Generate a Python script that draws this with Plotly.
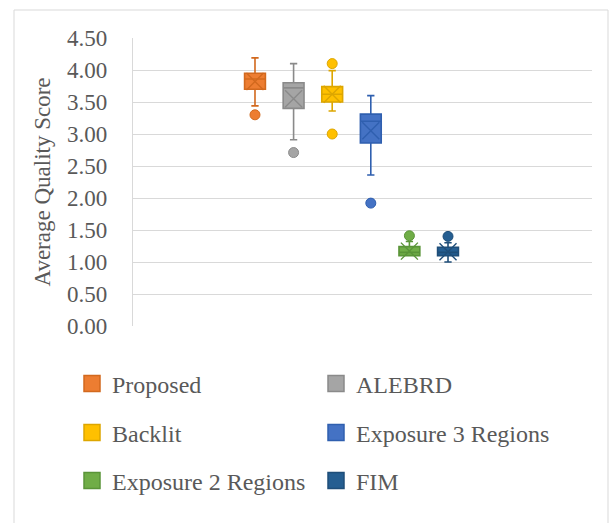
import plotly.graph_objects as go

series = ["Proposed", "ALEBRD", "Backlit", "Exposure 3 Regions", "Exposure 2 Regions", "FIM"]
positions = [0, 1, 2, 3, 4, 5]
lower_fence = [3.44, 2.91, 3.36, 2.36, 1.10, 1.00]
q1 = [3.70, 3.40, 3.50, 2.86, 1.10, 1.10]
median = [3.86, 3.72, 3.62, 3.20, 1.15, 1.15]
q3 = [3.95, 3.80, 3.74, 3.31, 1.24, 1.23]
upper_fence = [4.19, 4.10, 3.99, 3.60, 1.32, 1.30]
mean = [3.82, 3.55, 3.62, 3.05, 1.17, 1.16]
outliers = [[3.30], [2.71], [4.10, 3.00], [1.92], [1.41], [1.40]]

fill_colors = ["#ED7D31", "#A5A5A5", "#FFC000", "#4472C4", "#70AD47", "#255E91"]
edge_colors = ["#D2691E", "#8A8A8A", "#DDA600", "#2F5FAF", "#5A9438", "#1F4E79"]

FONT = "Liberation Serif"
GREY = "#595959"
FS = 23
FS_LEG = 24

fig = go.Figure()

for i, name in enumerate(series):
    fig.add_trace(go.Box(
        x=[positions[i]], q1=[q1[i]], median=[median[i]], q3=[q3[i]],
        lowerfence=[lower_fence[i]], upperfence=[upper_fence[i]],
        width=0.54, whiskerwidth=0.35,
        fillcolor=fill_colors[i], line=dict(color=edge_colors[i], width=1.6),
        name=name, showlegend=False, hoverinfo="skip",
    ))
    fig.add_trace(go.Scatter(
        x=[positions[i]], y=[mean[i]], mode="markers",
        marker=dict(symbol="x-thin", size=17, line=dict(color=edge_colors[i], width=1.4)),
        showlegend=False, hoverinfo="skip",
    ))
    fig.add_trace(go.Scatter(
        x=[positions[i]] * len(outliers[i]), y=outliers[i], mode="markers",
        marker=dict(symbol="circle", size=10, color=fill_colors[i],
                    line=dict(color=edge_colors[i], width=1)),
        showlegend=False, hoverinfo="skip",
    ))

legend_names = ["legend", "legend2", "legend3"]
for i, name in enumerate(series):
    fig.add_trace(go.Scatter(
        x=[None], y=[None], mode="markers", name=name,
        marker=dict(symbol="square", size=16, color=fill_colors[i],
                    line=dict(color=edge_colors[i], width=1.5)),
        legend=legend_names[i // 2],
    ))

legend_common = dict(
    orientation="h", xanchor="left", yanchor="middle",
    entrywidth=199, entrywidthmode="pixels",
    font=dict(family=FONT, size=FS_LEG, color=GREY),
    bgcolor="rgba(0,0,0,0)", itemclick=False, itemdoubleclick=False,
)

fig.update_layout(
    width=610, height=523,
    margin=dict(l=133, r=18, t=38, b=197),
    paper_bgcolor="white", plot_bgcolor="white",
    font=dict(family=FONT, size=FS, color=GREY),
    xaxis=dict(range=[-3.16, 8.73], showticklabels=False, showgrid=False,
               zeroline=False, showline=False, fixedrange=True),
    yaxis=dict(range=[0, 4.5], dtick=0.5, tickformat=".2f",
               gridcolor="#D9D9D9", gridwidth=1.2, zeroline=False,
               showline=True, linecolor="#D9D9D9", linewidth=1.2,
               ticklabelstandoff=20, fixedrange=True,
               tickfont=dict(family=FONT, size=FS, color=GREY),
               title=dict(text="Average Quality Score", standoff=9,
                          font=dict(family=FONT, size=FS, color=GREY))),
    legend=dict(x=(72 - 133) / 459, y=(326 - 384) / 288, **legend_common),
    legend2=dict(x=(72 - 133) / 459, y=(326 - 433) / 288, **legend_common),
    legend3=dict(x=(72 - 133) / 459, y=(326 - 481) / 288, **legend_common),
    shapes=[dict(type="rect", xref="paper", yref="paper",
                 x0=(14 - 133) / 459, x1=(608 - 133) / 459,
                 y0=(326 - 540) / 288, y1=(326 - 10) / 288,
                 line=dict(color="#D9D9D9", width=1), layer="below")],
)

fig.write_html("out.html", config={"displayModeBar": False},
               post_script="document.body.style.margin='0';document.body.style.overflow='hidden';")
